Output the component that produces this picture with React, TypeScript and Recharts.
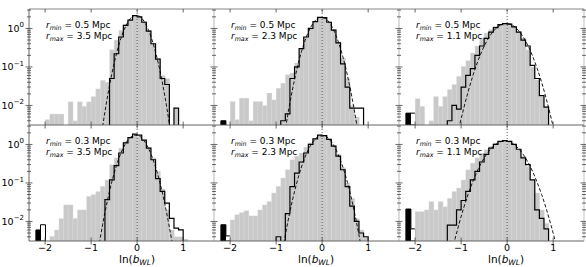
import React from 'react';
import { ComposedChart, Bar, Line, XAxis, YAxis, ReferenceLine, Cell } from 'recharts';

const _ = null;

const binCenters = [
  -2.35, -2.25, -2.15, -2.05, -1.95, -1.85, -1.75, -1.65, -1.55, -1.45,
  -1.35, -1.25, -1.15, -1.05, -0.95, -0.85, -0.75, -0.65, -0.55, -0.45,
  -0.35, -0.25, -0.15, -0.05, 0.05, 0.15, 0.25, 0.35, 0.45, 0.55,
  0.65, 0.75, 0.85, 0.95, 1.05, 1.15, 1.25, 1.35, 1.45, 1.55, 1.65,
];
const failBins = [-2.15, -2.05];
const xTicks = [-2, -1, 0, 1];
const yTicks = [
  0.004, 0.005, 0.006, 0.007, 0.008, 0.009, 0.01, 0.02, 0.03, 0.04, 0.05, 0.06, 0.07, 0.08, 0.09,
  0.1, 0.2, 0.3, 0.4, 0.5, 0.6, 0.7, 0.8, 0.9, 1, 2, 3,
];
const rMinLabels = ['0.5', '0.5', '0.5', '0.3', '0.3', '0.3'];
const rMaxLabels = ['3.5', '2.3', '1.1', '3.5', '2.3', '1.1'];
const blackBar = [0, 0.004, 0.0063, 0.006, 0.0082, 0.021];
const whiteBar = [0, 0, 0.0063, 0.0082, 0.0042, 0.0064];

const p1Gray = [0, 0, 0, 0, 0.0043, 0.006, 0.006, 0.006, 0, 0.0125,
  0.004, 0.0125, 0.0095, 0.0125, 0.017, 0.027, 0.045, 0.04, 0.28, 0.5,
  0.9, 1.3, 1.7, 2.1, 2.0, 1.5, 0.9, 0.42, 0.17, 0.06,
  0.05, 0, 0.0085, 0, 0, 0, 0, 0, 0, 0, 0];
const p1Outline = [0, 0, 0, 0, 0, 0, 0, 0, 0, 0,
  0, 0, 0, 0, 0, 0, 0, 0, 0.05, 0.22,
  0.6, 1.2, 1.65, 2.15, 2.0, 1.45, 0.85, 0.4, 0.16, 0.05,
  0.035, 0, 0.0085, 0, 0, 0, 0, 0, 0, 0, 0];
const p1Gauss = [_, _, _, _, _, _, _, _, _, _,
  _, _, _, _, _, 0.0004, 0.0028, 0.0155, 0.066, 0.218,
  0.563, 1.135, 1.78, 2.17, 2.07, 1.53, 0.88, 0.397, 0.139, 0.038,
  0.008, 0.0013, 0.00017, _, _, _, _, _, _, _, _];

const p2Gray = [0, 0, 0, 0, 0.0127, 0.0043, 0.0155, 0.0155, 0.004, 0.0127,
  0.0127, 0.01, 0.021, 0.014, 0.028, 0.038, 0.063, 0.07, 0.127, 0.3,
  0.6, 1.0, 1.5, 1.85, 1.85, 1.5, 0.95, 0.45, 0.17, 0.05,
  0.01, 0.005, 0, 0, 0, 0, 0, 0, 0, 0, 0];
const p2Outline = [0, 0, 0, 0, 0, 0, 0, 0, 0, 0,
  0, 0, 0, 0, 0, 0.004, 0.006, 0.05, 0.1, 0.3,
  0.6, 1.0, 1.5, 1.95, 1.9, 1.45, 0.9, 0.42, 0.12, 0.03,
  0.0085, 0.0085, 0.0085, 0, 0, 0, 0, 0, 0, 0, 0];
const p2Gauss = [_, _, _, _, _, _, _, _, _, _,
  _, _, _, _, _, 0.00097, 0.0054, 0.0239, 0.0857, 0.247,
  0.573, 1.067, 1.6, 1.92, 1.86, 1.45, 0.906, 0.455, 0.184, 0.0598,
  0.0156, 0.00327, 0.00055, _, _, _, _, _, _, _, _];

const p3Gray = [0, 0, 0, 0, 0.015, 0.0095, 0, 0.004, 0.017, 0.0095,
  0.017, 0.026, 0.035, 0.057, 0.104, 0.146, 0.23, 0.35, 0.57, 0.77,
  0.94, 1.15, 1.27, 1.35, 1.35, 1.15, 0.85, 0.57, 0.28, 0.1,
  0.046, 0.017, 0.0095, 0, 0, 0, 0, 0, 0, 0, 0];
const p3Outline = [0, 0, 0, 0, 0, 0, 0, 0, 0, 0,
  0, 0.004, 0.01, 0.008, 0.03, 0.06, 0.09, 0.2, 0.35, 0.55,
  0.8, 1.05, 1.25, 1.33, 1.3, 1.1, 0.8, 0.5, 0.35, 0.11,
  0.05, 0.018, 0.009, 0, 0, 0, 0, 0, 0, 0, 0];
const p3Gauss = [_, _, _, _, _, _, _, _, _, _,
  _, _, 0.00068, 0.0025, 0.0078, 0.0223, 0.0565, 0.127, 0.254, 0.449,
  0.705, 0.984, 1.22, 1.34, 1.31, 1.136, 0.875, 0.597, 0.362, 0.195,
  0.093, 0.0395, 0.0149, 0.005, 0.0015, 0.0004, _, _, _, _, _];

const p4Gray = [0, 0, 0, 0, 0, 0.0041, 0.006, 0.012, 0.027, 0.027,
  0.012, 0.02, 0.02, 0.045, 0.05, 0.06, 0.082, 0.12, 0.3, 0.45,
  0.8, 1.2, 1.55, 1.75, 1.6, 1.3, 0.85, 0.45, 0.2, 0.07,
  0.02, 0.006, 0.004, 0.004, 0.0035, 0, 0, 0, 0, 0, 0];
const p4Outline = [0, 0, 0, 0, 0, 0, 0, 0, 0, 0,
  0, 0, 0, 0, 0, 0, 0, 0.037, 0.12, 0.28,
  0.6, 1.1, 1.5, 1.85, 1.75, 1.3, 0.8, 0.4, 0.13, 0.06,
  0.03, 0.012, 0.0067, 0.006, 0, 0, 0, 0, 0, 0, 0];
const p4Gauss = [_, _, _, _, _, _, _, _, _, _,
  _, _, _, _, 0.00028, 0.00168, 0.00826, 0.033, 0.107, 0.283,
  0.608, 1.06, 1.51, 1.74, 1.64, 1.25, 0.778, 0.394, 0.162, 0.0542,
  0.0147, 0.00326, 0.00059, _, _, _, _, _, _, _, _];

const p5Gray = [0, 0, 0, 0, 0.011, 0.015, 0.017, 0.019, 0.014, 0.014,
  0.02, 0.027, 0.033, 0.055, 0.082, 0.135, 0.22, 0.4, 0.5, 0.6,
  0.85, 1.1, 1.45, 1.7, 1.65, 1.35, 0.95, 0.55, 0.25, 0.1,
  0.04, 0.012, 0.006, 0.004, 0, 0, 0, 0, 0, 0, 0];
const p5Outline = [0, 0, 0, 0, 0, 0, 0, 0, 0, 0,
  0, 0, 0, 0, 0.004, 0, 0.016, 0.08, 0.18, 0.35,
  0.6, 1.0, 1.4, 1.75, 1.7, 1.35, 0.9, 0.5, 0.22, 0.08,
  0.025, 0.01, 0.005, 0.004, 0, 0, 0, 0, 0, 0, 0];
const p5Gauss = [_, _, _, _, _, _, _, _, _, _,
  _, _, _, _, 0.00039, 0.00206, 0.0091, 0.0335, 0.102, 0.259,
  0.544, 0.95, 1.38, 1.66, 1.66, 1.38, 0.95, 0.544, 0.259, 0.102,
  0.0335, 0.0091, 0.00206, 0.00039, _, _, _, _, _, _, _];

const p6Gray = [0, 0, 0, 0, 0.018, 0.018, 0.02, 0.033, 0.02, 0.033,
  0.024, 0.04, 0.06, 0.074, 0.12, 0.22, 0.33, 0.45, 0.6, 0.74,
  0.9, 1.1, 1.2, 1.27, 1.2, 1.0, 0.74, 0.5, 0.27, 0.12,
  0.055, 0.02, 0.009, 0, 0, 0, 0, 0, 0, 0, 0];
const p6Outline = [0, 0, 0, 0, 0, 0, 0, 0, 0, 0,
  0, 0.008, 0.008, 0.02, 0.035, 0.06, 0.12, 0.2, 0.35, 0.55,
  0.8, 1.0, 1.2, 1.25, 1.2, 1.0, 0.75, 0.45, 0.3, 0.12,
  0.02, 0.012, 0.0064, 0, 0, 0, 0, 0, 0, 0, 0];
const p6Gauss = [_, _, _, _, _, _, _, _, _, _,
  0.00026, 0.00091, 0.00288, 0.00823, 0.0213, 0.0498, 0.105, 0.202, 0.35, 0.548,
  0.778, 1.0, 1.16, 1.22, 1.16, 1.0, 0.778, 0.548, 0.35, 0.202,
  0.105, 0.0498, 0.0213, 0.00823, 0.00288, 0.00091, _, _, _, _, _];

const grays = [p1Gray, p2Gray, p3Gray, p4Gray, p5Gray, p6Gray];
const outlines = [p1Outline, p2Outline, p3Outline, p4Outline, p5Outline, p6Outline];
const gausses = [p1Gauss, p2Gauss, p3Gauss, p4Gauss, p5Gauss, p6Gauss];

// layout
const FONT = '"DejaVu Sans", sans-serif';
const X_DOMAIN: [number, number] = [-2.35, 1.67];
const Y_DOMAIN: [number, number] = [0.0031, 3.2];
const FLOOR = 0.0001;
const PLOT_W = 185;
const PLOT_H = 116;
const colX = [29, 214, 399];
const rowY = [9, 125];
const LEFT_W = 30;
const RIGHT_W = 5;
const TOP_H = 5;
const BOTTOM_H = 30;
const GRAY = '#c9c9c9';

function buildRows(k: number) {
  return binCenters.map((x, i) => {
    let bar: number | null = grays[k][i] > 0 ? grays[k][i] : null;
    let kind = 'gray';
    if (x === failBins[0] && blackBar[k] > 0) { bar = blackBar[k]; kind = 'black'; }
    if (x === failBins[1] && whiteBar[k] > 0) { bar = whiteBar[k]; kind = 'white'; }
    return {
      x,
      bar,
      kind,
      outline: outlines[k][i] > 0 ? outlines[k][i] : FLOOR,
      gauss: gausses[k][i],
    };
  });
}

const isMajor = (v: number) => {
  const e = Math.log10(v);
  return Math.abs(e - Math.round(e)) < 1e-6;
};
const fmtX = (v: number) => (v < 0 ? '\u2212' + Math.abs(v) : String(v));
const fmtExp = (v: number) => {
  const e = Math.round(Math.log10(v));
  return e < 0 ? '\u2212' + Math.abs(e) : String(e);
};

function YTickLeft(props: any) {
  const { x, y, payload, showLabel } = props;
  const v = payload.value;
  const major = isMajor(v);
  const len = major ? 3.5 : 2;
  return (
    <g>
      <line x1={x - len} x2={x + len} y1={y} y2={y} stroke="#444" strokeWidth={0.8} />
      {major && showLabel ? (
        <text x={x - 5} y={y + 3.5} textAnchor="end" fontSize={9.5} fontFamily={FONT} fill="#000">
          10<tspan dy={-4.5} fontSize={7}>{fmtExp(v)}</tspan>
        </text>
      ) : null}
    </g>
  );
}

function YTickRight(props: any) {
  const { x, y, payload } = props;
  const len = isMajor(payload.value) ? 3.5 : 2;
  return <line x1={x - len} x2={x + len} y1={y} y2={y} stroke="#444" strokeWidth={0.8} />;
}

function XTickBottom(props: any) {
  const { x, y, payload, showLabel } = props;
  return (
    <g>
      <line x1={x} x2={x} y1={y - 3.5} y2={y + 3.5} stroke="#444" strokeWidth={0.8} />
      {showLabel ? (
        <text x={x} y={y + 10.3} textAnchor="middle" fontSize={9.5} fontFamily={FONT} fill="#000">
          {fmtX(payload.value)}
        </text>
      ) : null}
    </g>
  );
}

function XTickTop(props: any) {
  const { x, y } = props;
  return <line x1={x} x2={x} y1={y} y2={y + 3.5} stroke="#444" strokeWidth={0.8} />;
}

function Panel({ k }: { k: number }) {
  const row = Math.floor(k / 3);
  const col = k % 3;
  const rows = buildRows(k);
  const showY = col === 0;
  const showX = row === 1;
  return (
    <div style={{ position: 'absolute', left: colX[col] - LEFT_W, top: rowY[row] - TOP_H }}>
      <ComposedChart
        width={LEFT_W + PLOT_W + RIGHT_W}
        height={TOP_H + PLOT_H + BOTTOM_H}
        data={rows}
        margin={{ top: 0, right: 0, bottom: 0, left: 0 }}
        barCategoryGap={0}
        barGap={0}
      >
        <XAxis
          xAxisId="b"
          dataKey="x"
          type="number"
          domain={X_DOMAIN}
          allowDataOverflow
          ticks={xTicks}
          interval={0}
          height={BOTTOM_H}
          tickSize={0}
          tickMargin={0}
          tickLine={false}
          axisLine={{ stroke: '#555', strokeWidth: 0.9 }}
          tick={(t: any) => <XTickBottom {...t} showLabel={showX} />}
        />
        <XAxis
          xAxisId="t"
          dataKey="x"
          orientation="top"
          type="number"
          domain={X_DOMAIN}
          allowDataOverflow
          ticks={xTicks}
          interval={0}
          height={TOP_H}
          tickSize={0}
          tickMargin={0}
          tickLine={false}
          axisLine={row === 0 ? { stroke: '#777', strokeWidth: 0.9 } : false}
          tick={row === 0 ? (t: any) => <XTickTop {...t} /> : false}
        />
        <YAxis
          yAxisId="l"
          type="number"
          scale="log"
          domain={Y_DOMAIN}
          allowDataOverflow
          ticks={yTicks}
          interval={0}
          width={LEFT_W}
          tickSize={0}
          tickMargin={0}
          tickLine={false}
          axisLine={{ stroke: col === 0 ? '#555' : '#888', strokeWidth: col === 0 ? 0.9 : 0.6 }}
          tick={(t: any) => <YTickLeft {...t} showLabel={showY} />}
        />
        <YAxis
          yAxisId="r"
          orientation="right"
          type="number"
          scale="log"
          domain={Y_DOMAIN}
          allowDataOverflow
          ticks={yTicks}
          interval={0}
          width={RIGHT_W}
          tickSize={0}
          tickMargin={0}
          tickLine={false}
          axisLine={col === 2 ? { stroke: '#999', strokeWidth: 0.6 } : false}
          tick={col === 2 ? (t: any) => <YTickRight {...t} /> : false}
        />
        <Bar xAxisId="b" yAxisId="l" dataKey="bar" isAnimationActive={false}>
          {rows.map((r, i) => (
            <Cell
              key={i}
              fill={r.kind === 'black' ? '#000' : r.kind === 'white' ? '#fff' : GRAY}
              stroke={r.kind === 'gray' ? '#ececec' : '#000'}
              strokeWidth={r.kind === 'gray' ? 0.3 : 1}
            />
          ))}
        </Bar>
        <Line
          xAxisId="b"
          yAxisId="l"
          type="step"
          dataKey="outline"
          stroke="#000"
          strokeWidth={1.2}
          dot={false}
          activeDot={false}
          isAnimationActive={false}
        />
        <Line
          xAxisId="b"
          yAxisId="l"
          type="monotone"
          dataKey="gauss"
          stroke="#000"
          strokeWidth={0.9}
          strokeDasharray="3.5 2"
          dot={false}
          activeDot={false}
          connectNulls={false}
          isAnimationActive={false}
        />
        <ReferenceLine xAxisId="b" yAxisId="l" x={0} stroke="#333" strokeWidth={0.8} strokeDasharray="1 2" />
      </ComposedChart>
    </div>
  );
}

function Annotations() {
  const titleX = [137, 316, 506];
  return (
    <svg
      width={586}
      height={267}
      style={{ position: 'absolute', left: 0, top: 0, pointerEvents: 'none' }}
    >
      {[0, 1, 2, 3, 4, 5].map((k) => {
        const row = Math.floor(k / 3);
        const col = k % 3;
        const x = colX[col] + 17;
        const y = rowY[row];
        return (
          <g key={k} fontFamily={FONT} fontSize={9} fill="#000">
            <text x={x} y={y + 18.5}>
              <tspan fontStyle="italic">r</tspan>
              <tspan fontStyle="italic" fontSize={6.3} dy={2}>min</tspan>
              <tspan dy={-2}>{' = ' + rMinLabels[k] + ' Mpc'}</tspan>
            </text>
            <text x={x} y={y + 29.5}>
              <tspan fontStyle="italic">r</tspan>
              <tspan fontStyle="italic" fontSize={6.3} dy={2}>max</tspan>
              <tspan dy={-2}>{' = ' + rMaxLabels[k] + ' Mpc'}</tspan>
            </text>
          </g>
        );
      })}
      {titleX.map((tx, i) => (
        <text key={i} x={tx} y={263} textAnchor="middle" fontFamily={FONT} fontSize={10.5} fill="#000">
          ln(<tspan fontStyle="italic">b</tspan>
          <tspan fontStyle="italic" fontSize={7.5} dy={2}>WL</tspan>
          <tspan dy={-2}>)</tspan>
        </text>
      ))}
    </svg>
  );
}

export default function App() {
  return (
    <div style={{ position: 'absolute', left: 0, top: 0, width: 586, height: 267, background: '#fff', overflow: 'hidden' }}>
      {[0, 1, 2, 3, 4, 5].map((k) => (
        <Panel key={k} k={k} />
      ))}
      <Annotations />
    </div>
  );
}
